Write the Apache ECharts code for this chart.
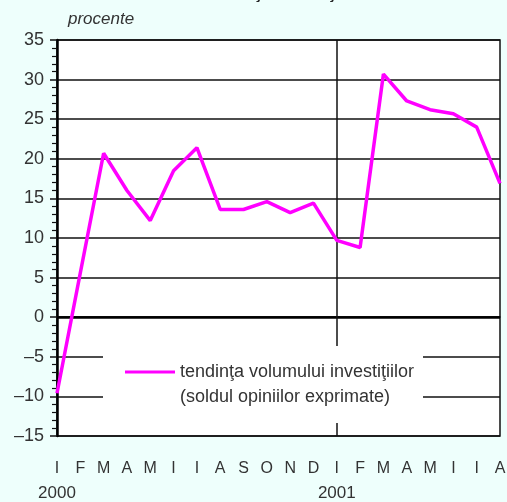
<!DOCTYPE html>
<html>
<head>
<meta charset="utf-8">
<script src="https://cdn.jsdelivr.net/npm/echarts@6/dist/echarts.min.js"></script>
<style>
  html, body { margin: 0; padding: 0; background: #eefffc; }
  #chart { width: 507px; height: 502px; }
</style>
</head>
<body>
<div id="chart"></div>
<script>
// date lunare ian 2000 - aug 2001
const categories = ['2000-01', '2000-02', '2000-03', '2000-04', '2000-05', '2000-06', '2000-07',
  '2000-08', '2000-09', '2000-10', '2000-11', '2000-12', '2001-01', '2001-02', '2001-03',
  '2001-04', '2001-05', '2001-06', '2001-07', '2001-08'];
const monthLabels = ['I', 'F', 'M', 'A', 'M', 'I', 'I', 'A', 'S', 'O', 'N', 'D',
  'I', 'F', 'M', 'A', 'M', 'I', 'I', 'A'];
const yearLabels = ['2000', '', '', '', '', '', '', '', '', '', '', '',
  '2001', '', '', '', '', '', '', ''];
const investitii = [-9.6, 5.6, 20.7, 16.0, 12.2, 18.5, 21.4, 13.6, 13.6, 14.6, 13.2, 14.4,
  9.7, 8.8, 30.7, 27.3, 26.2, 25.7, 24.0, 16.9];
const seriesName = 'tendinţa volumului investiţiilor';
const seriesNote = '(soldul opiniilor exprimate)';

const font = 'Liberation Sans';
const chart = echarts.init(document.getElementById('chart'));

chart.setOption({
  backgroundColor: '#eefffc',
  animation: false,
  title: {
    text: 'Tendinţa investiţiilor',
    left: 200,
    top: -14,
    padding: 0,
    textStyle: { fontFamily: font, fontSize: 17, fontWeight: 'bold', color: '#222' }
  },
  grid: {
    left: 57, right: 7, top: 40, bottom: 66,
    outerBoundsMode: 'none',
    containLabel: false,
    show: true,
    backgroundColor: '#ffffff',
    borderColor: '#111',
    borderWidth: 1.5
  },
  legend: {
    data: [seriesName],
    left: 125,
    top: 363,
    padding: 0,
    icon: 'rect',
    itemWidth: 50,
    itemHeight: 3,
    z: 8,
    textStyle: { fontFamily: font, fontSize: 18, color: '#333' }
  },
  graphic: [
    {
      type: 'rect',
      z: 7,
      silent: true,
      shape: { x: 103, y: 346, width: 320, height: 77 },
      style: { fill: '#ffffff' }
    },
    {
      type: 'text',
      z: 8,
      silent: true,
      x: 180,
      y: 397,
      style: {
        text: seriesNote,
        font: '18px "Liberation Sans"',
        fill: '#333',
        align: 'left',
        verticalAlign: 'middle'
      }
    }
  ],
  xAxis: {
    type: 'category',
    data: categories,
    boundaryGap: false,
    axisLine: { lineStyle: { color: '#111', width: 1.5 } },
    axisTick: { show: false },
    splitLine: { show: false },
    axisLabel: {
      interval: 0,
      margin: 20,
      fontFamily: font,
      fontSize: 16,
      lineHeight: 25,
      color: '#333',
      formatter: (v, i) => monthLabels[i] + '\n' + (yearLabels[i] ? '{y|' + yearLabels[i] + '}' : ' '),
      rich: { y: { fontFamily: font, fontSize: 17, lineHeight: 25, color: '#333' } }
    }
  },
  yAxis: {
    type: 'value',
    min: -15,
    max: 35,
    interval: 5,
    name: 'procente',
    nameLocation: 'end',
    nameGap: 12,
    nameTextStyle: {
      fontFamily: font, fontSize: 17, fontStyle: 'italic', color: '#333',
      align: 'left', padding: [0, 0, 0, 11]
    },
    axisLine: { show: true, lineStyle: { color: '#000', width: 2.5 } },
    axisTick: { show: true, length: 7, lineStyle: { color: '#111', width: 1.5 } },
    minorTick: { show: true, splitNumber: 5, length: 5, lineStyle: { color: '#111', width: 1.2 } },
    splitLine: { show: true, lineStyle: { color: '#111', width: 1.5 } },
    axisLabel: {
      margin: 13,
      fontFamily: font,
      fontSize: 18,
      color: '#333',
      formatter: v => String(v).replace('-', '\u2013')
    }
  },
  series: [{
    name: seriesName,
    type: 'line',
    data: investitii,
    symbol: 'none',
    lineStyle: { color: '#ff00ff', width: 3.5 },
    itemStyle: { color: '#ff00ff' },
    markLine: {
      silent: true,
      z: 2,
      symbol: 'none',
      label: { show: false },
      data: [
        { yAxis: 0, lineStyle: { color: '#000', width: 2.5, type: 'solid' } },
        { xAxis: categories[12], lineStyle: { color: '#111', width: 1.5, type: 'solid' } }
      ]
    }
  }]
});
</script>
</body>
</html>
